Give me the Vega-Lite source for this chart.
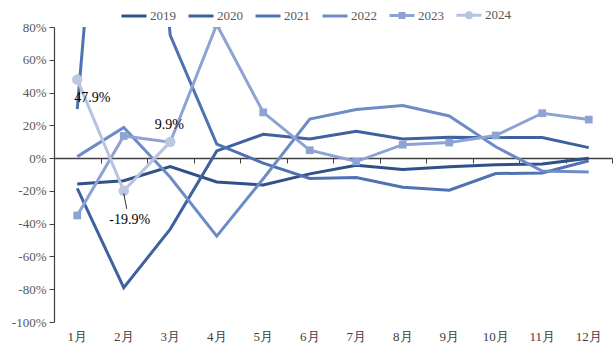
{
  "$schema": "https://vega.github.io/schema/vega-lite/v6.json",
  "autosize": "none",
  "width": 558,
  "height": 295,
  "padding": {"left": 54, "top": 27, "right": 4, "bottom": 28},
  "background": "white",
  "config": {
    "view": {"stroke": null},
    "font": "Liberation Serif"
  },
  "datasets": {
    "sales": [
      {"month": "1月", "year": "2019", "value": -15.8}, {"month": "2月", "year": "2019", "value": -13.8}, {"month": "3月", "year": "2019", "value": -5.2}, {"month": "4月", "year": "2019", "value": -14.6}, {"month": "5月", "year": "2019", "value": -16.4}, {"month": "6月", "year": "2019", "value": -9.6}, {"month": "7月", "year": "2019", "value": -4.3}, {"month": "8月", "year": "2019", "value": -6.9}, {"month": "9月", "year": "2019", "value": -5.2}, {"month": "10月", "year": "2019", "value": -4.0}, {"month": "11月", "year": "2019", "value": -3.6}, {"month": "12月", "year": "2019", "value": -0.1},
      {"month": "1月", "year": "2020", "value": -18.5}, {"month": "2月", "year": "2020", "value": -79.1}, {"month": "3月", "year": "2020", "value": -43.3}, {"month": "4月", "year": "2020", "value": 4.4}, {"month": "5月", "year": "2020", "value": 14.5}, {"month": "6月", "year": "2020", "value": 11.6}, {"month": "7月", "year": "2020", "value": 16.4}, {"month": "8月", "year": "2020", "value": 11.6}, {"month": "9月", "year": "2020", "value": 12.8}, {"month": "10月", "year": "2020", "value": 12.5}, {"month": "11月", "year": "2020", "value": 12.6}, {"month": "12月", "year": "2020", "value": 6.4},
      {"month": "1月", "year": "2021", "value": 29.9}, {"month": "2月", "year": "2021", "value": 364.9}, {"month": "3月", "year": "2021", "value": 74.9}, {"month": "4月", "year": "2021", "value": 8.6}, {"month": "5月", "year": "2021", "value": -3.1}, {"month": "6月", "year": "2021", "value": -12.4}, {"month": "7月", "year": "2021", "value": -11.9}, {"month": "8月", "year": "2021", "value": -17.8}, {"month": "9月", "year": "2021", "value": -19.6}, {"month": "10月", "year": "2021", "value": -9.4}, {"month": "11月", "year": "2021", "value": -9.1}, {"month": "12月", "year": "2021", "value": -1.6},
      {"month": "1月", "year": "2022", "value": 0.9}, {"month": "2月", "year": "2022", "value": 18.7}, {"month": "3月", "year": "2022", "value": -11.7}, {"month": "4月", "year": "2022", "value": -47.6}, {"month": "5月", "year": "2022", "value": -12.6}, {"month": "6月", "year": "2022", "value": 23.8}, {"month": "7月", "year": "2022", "value": 29.7}, {"month": "8月", "year": "2022", "value": 32.1}, {"month": "9月", "year": "2022", "value": 25.7}, {"month": "10月", "year": "2022", "value": 6.9}, {"month": "11月", "year": "2022", "value": -7.9}, {"month": "12月", "year": "2022", "value": -8.4},
      {"month": "1月", "year": "2023", "value": -35.0}, {"month": "2月", "year": "2023", "value": 13.5}, {"month": "3月", "year": "2023", "value": 9.7}, {"month": "4月", "year": "2023", "value": 81.5}, {"month": "5月", "year": "2023", "value": 27.9}, {"month": "6月", "year": "2023", "value": 4.8}, {"month": "7月", "year": "2023", "value": -2.1}, {"month": "8月", "year": "2023", "value": 8.2}, {"month": "9月", "year": "2023", "value": 9.5}, {"month": "10月", "year": "2023", "value": 13.8}, {"month": "11月", "year": "2023", "value": 27.4}, {"month": "12月", "year": "2023", "value": 23.5},
      {"month": "1月", "year": "2024", "value": 47.9}, {"month": "2月", "year": "2024", "value": -19.9}, {"month": "3月", "year": "2024", "value": 9.9}
    ],
    "labels": [
      {"month": "1月", "value": 47.9, "label": "47.9%"},
      {"month": "2月", "value": -19.9, "label": "-19.9%"},
      {"month": "3月", "value": 9.9, "label": "9.9%"}
    ]
  },
  "data": {"name": "sales"},
  "encoding": {
    "x": {
      "field": "month", "type": "ordinal",
      "sort": ["1月","2月","3月","4月","5月","6月","7月","8月","9月","10月","11月","12月"],
      "scale": {"type": "band", "paddingInner": 0, "paddingOuter": 0}
    },
    "y": {
      "field": "value", "type": "quantitative",
      "scale": {"domain": [-100, 80], "nice": false, "zero": false},
      "axis": {
        "values": [-100, -80, -60, -40, -20, 0, 20, 40, 60, 80],
        "labelExpr": "datum.value + '%'",
        "grid": false, "title": null,
        "domainColor": "#404040", "domainWidth": 1.2,
        "tickColor": "#404040", "tickSize": 5,
        "labelColor": "#595959", "labelFont": "Liberation Serif", "labelFontSize": 13,
        "labelPadding": 3
      }
    }
  },
  "layer": [
    {
      "mark": {"type": "line", "strokeWidth": 3, "clip": true},
      "encoding": {
        "x": {
          "field": "month", "type": "ordinal",
          "sort": ["1月","2月","3月","4月","5月","6月","7月","8月","9月","10月","11月","12月"],
          "axis": {
            "orient": "bottom", "offset": -164, "labels": false, "title": null,
            "domainColor": "#404040", "domainWidth": 1.5,
            "tickColor": "#404040", "tickSize": 5, "tickBand": "extent", "grid": false
          }
        },
        "color": {
          "field": "year", "type": "nominal",
          "scale": {
            "domain": ["2019", "2020", "2021", "2022", "2023", "2024"],
            "range": ["#30508a", "#3e62a0", "#4f72b3", "#6d8cc6", "#8ea3d3", "#b7c3e3"]
          },
          "legend": {
            "orient": "none", "legendX": 66, "legendY": -26,
            "direction": "horizontal", "title": null,
            "symbolType": "stroke", "symbolStrokeWidth": 3, "symbolSize": 625,
            "labelFont": "Liberation Serif", "labelFontSize": 13, "labelColor": "#595959",
            "labelFontWeight": "normal",
            "columnPadding": 6, "labelOffset": 2,
            "encode": {
              "symbols": {
                "update": {
                  "shape": {"signal": "datum.label == '2023' ? 'M-1,0H1M-0.16,-0.16H0.16V0.16H-0.16Z' : datum.label == '2024' ? 'M-1,0H1M-0.2,0A0.2,0.2,0,1,1,0.2,0A0.2,0.2,0,1,1,-0.2,0Z' : 'stroke'"},
                  "fill": {"signal": "scale('color', datum.value)"}
                }
              }
            }
          }
        }
      }
    },
    {
      "transform": [{"filter": "datum.year == '2023'"}],
      "mark": {"type": "square", "size": 60, "opacity": 1, "clip": true, "color": "#8ea3d3"},
      "encoding": {"x": {"field": "month", "type": "ordinal", "sort": ["1月","2月","3月","4月","5月","6月","7月","8月","9月","10月","11月","12月"], "axis": null}}
    },
    {
      "transform": [{"filter": "datum.year == '2024'"}],
      "mark": {"type": "circle", "size": 110, "opacity": 1, "clip": true, "color": "#bcc7e5"},
      "encoding": {"x": {"field": "month", "type": "ordinal", "sort": ["1月","2月","3月","4月","5月","6月","7月","8月","9月","10月","11月","12月"], "axis": null}}
    },
    {
      "data": {"name": "labels"},
      "transform": [{"filter": "datum.month == '1月'"}],
      "mark": {"type": "text", "dx": 15, "dy": 18, "fontSize": 14, "font": "Liberation Serif", "color": "#000000"},
      "encoding": {
        "x": {
          "field": "month", "type": "ordinal",
          "sort": ["1月","2月","3月","4月","5月","6月","7月","8月","9月","10月","11月","12月"],
          "axis": {
            "orient": "bottom", "domain": false, "ticks": false, "title": null,
            "labelAngle": 0, "labelColor": "#404040", "labelFont": "Liberation Serif",
            "labelFontSize": 13, "labelPadding": 8
          }
        },
        "text": {"field": "label"}
      }
    },
    {
      "data": {"name": "labels"},
      "transform": [{"filter": "datum.month == '3月'"}],
      "mark": {"type": "text", "dx": -1, "dy": -17, "fontSize": 14, "font": "Liberation Serif", "color": "#000000"},
      "encoding": {
        "x": {"field": "month", "type": "ordinal", "sort": ["1月","2月","3月","4月","5月","6月","7月","8月","9月","10月","11月","12月"], "axis": null},
        "text": {"field": "label"}
      }
    },
    {
      "data": {"name": "labels"},
      "transform": [{"filter": "datum.month == '2月'"}],
      "mark": {"type": "text", "dx": 6, "dy": 29, "fontSize": 14, "font": "Liberation Serif", "color": "#000000"},
      "encoding": {
        "x": {"field": "month", "type": "ordinal", "sort": ["1月","2月","3月","4月","5月","6月","7月","8月","9月","10月","11月","12月"], "axis": null},
        "text": {"field": "label"}
      }
    },
    {
      "data": {"name": "labels"},
      "transform": [{"filter": "datum.month == '2月'"}],
      "mark": {"type": "rule", "color": "#000000", "strokeWidth": 0.8, "x2Offset": 3},
      "encoding": {
        "x": {"field": "month", "type": "ordinal", "sort": ["1月","2月","3月","4月","5月","6月","7月","8月","9月","10月","11月","12月"], "axis": null},
        "x2": {"field": "month"},
        "y": {"datum": -21.5},
        "y2": {"datum": -31}
      }
    }
  ],
  "resolve": {"axis": {"x": "independent"}}
}
